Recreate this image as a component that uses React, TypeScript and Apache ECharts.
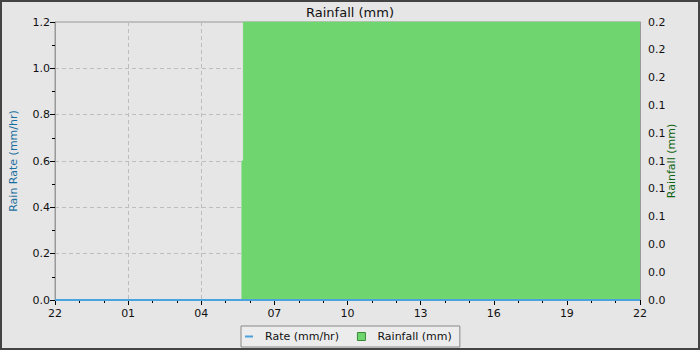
import React, { useEffect, useRef } from "react";
import * as echarts from "echarts";

const title = "Rainfall (mm)";
const xTickLabels = ["22", "01", "04", "07", "10", "13", "16", "19", "22"];
// hours elapsed since 22:00 of the first day
const rateHours = [0, 24];
const rateValues = [0, 0];
const rainHours = [0, 7.67, 7.67, 7.73, 7.73, 24];
const rainValues = [0, 0, 0.1, 0.1, 0.2, 0.2];

export default function App() {
  const ref = useRef<HTMLDivElement>(null);
  useEffect(() => {
    const chart = echarts.init(ref.current!, null, { renderer: "svg" });
    const font = "DejaVu Sans";
    chart.setOption({
      animation: false,
      backgroundColor: "#e6e6e6",
      textStyle: { fontFamily: font },
      title: {
        text: title,
        left: "center",
        top: 1,
        textStyle: { fontFamily: font, fontSize: 13, fontWeight: "normal", color: "#111" },
      },
      graphic: [
        {
          type: "rect",
          shape: { x: 1, y: 1, width: 698, height: 348 },
          style: { fill: "none", stroke: "#444", lineWidth: 2 },
          silent: true,
        },
      ],
      grid: {
        left: 55,
        right: 60,
        top: 22,
        bottom: 50,
        show: true,
        backgroundColor: "#e6e6e6",
        borderColor: "#999",
        borderWidth: 1,
      },
      legend: {
        left: 241,
        top: 326,
        padding: [5, 8, 5, 4],
        itemGap: 18,
        itemWidth: 8,
        itemHeight: 8,
        symbolKeepAspect: true,
        backgroundColor: "#ececec",
        borderColor: "#888",
        borderWidth: 1,
        borderRadius: 0,
        textStyle: { fontFamily: font, fontSize: 11, color: "#111", padding: [0, 0, 0, 7] },
        data: [
          {
            name: "Rate (mm/hr)",
            icon: "path://M0,0h8v2h-8z",
            itemStyle: { color: "#4aa3dc" },
          },
          {
            name: "Rainfall (mm)",
            icon: "rect",
            itemStyle: { color: "#6fd66f", borderColor: "#3a8a3a", borderWidth: 1 },
          },
        ],
      },
      xAxis: {
        type: "value",
        min: 0,
        max: 24,
        interval: 3,
        axisLine: { show: true, lineStyle: { color: "#999" } },
        axisTick: { show: true, length: 5, lineStyle: { color: "#000" } },
        minorTick: { show: true, splitNumber: 3, length: 3, lineStyle: { color: "#000" } },
        splitLine: { show: true, lineStyle: { color: "#bdbdbd", type: [4, 3] } },
        axisLabel: {
          margin: 8,
          fontSize: 11,
          color: "#111",
          formatter: (v: number) => xTickLabels[Math.round(v / 3)] ?? "",
        },
      },
      yAxis: [
        {
          type: "value",
          min: 0,
          max: 1.2,
          interval: 0.2,
          name: "Rain Rate (mm/hr)",
          nameLocation: "middle",
          nameGap: 36,
          nameMoveOverlap: false,
          nameTextStyle: { color: "#1a6e9e", fontSize: 11, fontFamily: font },
          axisLine: { show: true, lineStyle: { color: "#999" } },
          axisTick: { show: true, length: 5, lineStyle: { color: "#000" } },
          minorTick: { show: true, splitNumber: 2, length: 3, lineStyle: { color: "#000" } },
          splitLine: { show: true, lineStyle: { color: "#bdbdbd", type: [4, 3] } },
          axisLabel: {
            margin: 5,
            fontSize: 11,
            color: "#111",
            formatter: (v: number) => v.toFixed(1),
          },
        },
        {
          type: "value",
          min: 0,
          max: 0.2,
          interval: 0.02,
          name: "Rainfall (mm)",
          nameLocation: "middle",
          nameGap: 26,
          nameRotate: 90,
          nameMoveOverlap: false,
          nameTextStyle: { color: "#0f6410", fontSize: 11, fontFamily: font },
          axisLine: { show: true, lineStyle: { color: "#999" } },
          axisTick: { show: true, inside: true, length: 3, lineStyle: { color: "#000" } },
          minorTick: { show: true, splitNumber: 2, length: 2, lineStyle: { color: "#000" } },
          splitLine: { show: false },
          axisLabel: {
            margin: 8,
            fontSize: 11,
            color: "#111",
            formatter: (v: number) => v.toFixed(1),
          },
        },
      ],
      series: [
        {
          name: "Rainfall (mm)",
          type: "line",
          yAxisIndex: 1,
          showSymbol: false,
          symbol: "none",
          data: rainHours.map((h, i) => [h, rainValues[i]]),
          lineStyle: { color: "#6fd66f", width: 1 },
          itemStyle: { color: "#6fd66f" },
          areaStyle: { color: "#6fd66f", opacity: 1 },
          z: 2,
        },
        {
          name: "Rate (mm/hr)",
          type: "line",
          yAxisIndex: 0,
          showSymbol: false,
          symbol: "none",
          data: rateHours.map((h, i) => [h, rateValues[i]]),
          lineStyle: { color: "#4aa3dc", width: 2 },
          itemStyle: { color: "#4aa3dc" },
          z: 3,
        },
      ],
    });
    return () => chart.dispose();
  }, []);
  return (
    <div
      ref={ref}
      style={{ position: "fixed", left: 0, top: 0, width: 700, height: 350 }}
    />
  );
}
